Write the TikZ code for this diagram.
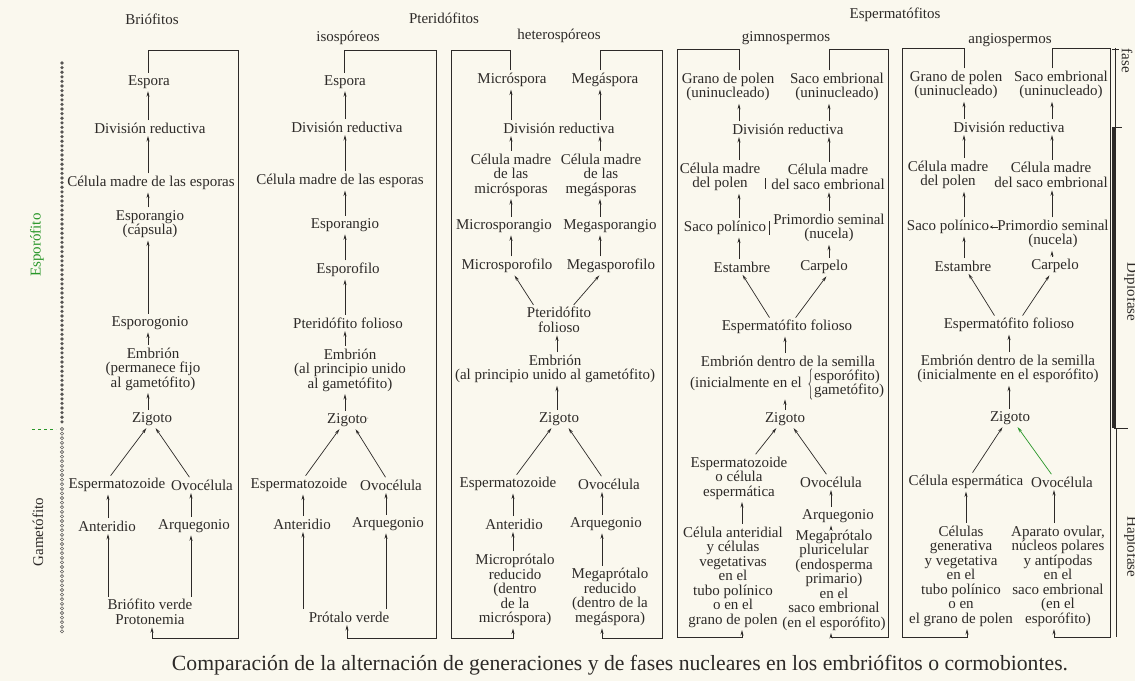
\documentclass[tikz,border=0pt]{standalone}
\usepackage{fontspec}
\setmainfont{Liberation Serif}
\usetikzlibrary{arrows.meta,calc,decorations.pathreplacing}
\definecolor{ink}{RGB}{45,42,40}
\definecolor{paper}{RGB}{250,248,238}
\definecolor{grn}{RGB}{40,150,40}
\newcommand\tx{\fontsize{15}{14.5}\selectfont}
\begin{document}
\begin{tikzpicture}[x=1pt,y=-1pt,
  lbl/.style={font=\tx, text=ink, inner sep=1.5pt, align=center},
  arr/.style={draw=ink, line width=0.7pt, -{Stealth[length=5.5pt,width=3pt]}, shorten <=1pt, shorten >=1pt},
  ln/.style={draw=ink, line width=0.7pt}]
\fill[paper] (0,0) rectangle (1135,681);
\useasboundingbox (0,0) rectangle (1135,681);

% ---------- left phase marks
\foreach \i in {0,...,78} \fill[ink!80] (62,63+\i*4.6) circle (1.8);
\foreach \i in {0,...,44} \draw[ink!75,line width=0.6pt] (62,429+\i*4.6) circle (1.6);
\node[lbl, rotate=90, text=grn] (espo) at (37,245) {Esporófito};
\node[lbl, rotate=90] (game) at (38,532) {Gametófito};
\draw[grn, dashed, line width=0.8pt] (32,429) -- (56,429);

% ---------- Briofitos
\node[lbl] (bt) at (152,19) {Briófitos};
\node[lbl] (b1) at (149,82) {Espora};
\node[lbl] (b2) at (150,128) {División reductiva};
\node[lbl] (b3) at (151,183) {Célula madre de las esporas};
\node[lbl] (b4) at (150,224) {Esporangio\\(cápsula)};
\node[lbl] (b5) at (150,323) {Esporogonio};
\node[lbl] (b6) at (153,369) {Embrión\\(permanece fijo\\al gametófito)};
\node[lbl] (b7) at (152,419) {Zigoto};
\node[lbl] (b8) at (117,485) {Espermatozoide};
\node[lbl] (b9) at (202,485) {Ovocélula};
\node[lbl] (b10) at (107,526) {Anteridio};
\node[lbl] (b11) at (194,526) {Arquegonio};
\node[lbl] (b12) at (150,612) {Briófito verde\\Protonemia};
\foreach \lo/\hi in {b2/b1,b3/b2,b4/b3,b5/b4,b6/b5,b7/b6}
  \draw[arr] (\lo.north -| 148,0) -- (\hi.south -| 148,0);
\draw[arr] ([xshift=-7pt]b8.north) -- ([xshift=-5pt]b7.south);
\draw[arr] ([xshift=-12pt]b9.north) -- ([xshift=3pt]b7.south);
\draw[arr] (b10.north -| 108,0) -- (b8.south -| 108,0);
\draw[arr] (b11.north -| 191,0) -- (b9.south -| 191,0);
\draw[arr] (b12.north -| 108,0) -- (b10.south -| 108,0);
\draw[arr] (b12.north -| 191,0) -- (b11.south -| 191,0);
\draw[arr] (b1.north -| 148,0) |- (238,50) -- (238,638) -| (b12.south -| 152,0);

% ---------- Pteridofitos isosporeos
\node[lbl] (pt) at (444,18) {Pteridófitos};
\node[lbl] (it) at (348,38) {isospóreos};
\node[lbl] (i1) at (345,82) {Espora};
\node[lbl] (i2) at (347,127) {División reductiva};
\node[lbl] (i3) at (340,181) {Célula madre de las esporas};
\node[lbl] (i4) at (345,225) {Esporangio};
\node[lbl] (i5) at (348,270) {Esporofilo};
\node[lbl] (i6) at (348,323) {Pteridófito folioso};
\node[lbl] (i7) at (350,370) {Embrión\\(al principio unido\\al gametófito)};
\node[lbl] (i8) at (348,420) {Zigoto\raisebox{2pt}{\tiny'}};
\node[lbl] (i9) at (299,485) {Espermatozoide};
\node[lbl] (i10) at (391,485) {Ovocélula};
\node[lbl] (i11) at (302,524) {Anteridio};
\node[lbl] (i12) at (388,524) {Arquegonio};
\node[lbl] (i13) at (349,617) {Prótalo verde};
\foreach \lo/\hi in {i2/i1,i3/i2,i4/i3,i5/i4,i6/i5,i7/i6,i8/i7}
  \draw[arr] (\lo.north -| 345,0) -- (\hi.south -| 345,0);
\draw[arr] ([xshift=6pt]i9.north) -- ([xshift=-8pt]i8.south);
\draw[arr] ([xshift=-5pt]i10.north) -- ([xshift=7pt]i8.south);
\draw[arr] (i11.north -| 303,0) -- (i9.south -| 303,0);
\draw[arr] (i12.north -| 386,0) -- (i10.south -| 386,0);
\draw[arr] (i13.north -| 303,0) -- (i11.south -| 303,0);
\draw[arr] (i13.north -| 386,0) -- (i12.south -| 386,0);
\draw[arr] (i1.north -| 344,0) |- (436,50) -- (436,638) -| (i13.south -| 347,0);

% ---------- Pteridofitos heterosporeos
\node[lbl] (ht) at (559,36) {heterospóreos};
\node[lbl] (h1) at (512,80) {Micróspora};
\node[lbl] (h2) at (605,80) {Megáspora};
\node[lbl] (h3) at (559,128) {División reductiva};
\node[lbl] (h4) at (511,175) {Célula madre\\de las\\micrósporas};
\node[lbl] (h5) at (601,175) {Célula madre\\de las\\megásporas};
\node[lbl] (h6) at (504,226) {Microsporangio};
\node[lbl] (h7) at (610,226) {Megasporangio};
\node[lbl] (h8) at (507,266) {Microsporofilo};
\node[lbl] (h9) at (611,266) {Megasporofilo};
\node[lbl] (h10) at (559,320) {Pteridófito\\folioso};
\node[lbl] (h11) at (555,369) {Embrión\\(al principio unido al gametófito)};
\node[lbl] (h12) at (559,419) {Zigoto};
\node[lbl] (h13) at (508,484) {Espermatozoide};
\node[lbl] (h14) at (609,484) {Ovocélula};
\node[lbl] (h15) at (514,524) {Anteridio};
\node[lbl] (h16) at (606,524) {Arquegonio};
\node[lbl] (h17) at (515,590) {Microprótalo\\reducido\\(dentro\\de la\\micróspora)};
\node[lbl] (h18) at (610,597) {Megaprótalo\\reducido\\(dentro de la\\megáspora)};
\draw[arr] (h3.north -| 511,0) -- (h1.south -| 511,0);
\draw[arr] (h3.north -| 600,0) -- (h2.south -| 600,0);
\draw[arr] (h4.north -| 511,0) -- (h3.south -| 511,0);
\draw[arr] (h5.north -| 600,0) -- (h3.south -| 600,0);
\draw[arr] (h6.north -| 511,0) -- (h4.south -| 511,0);
\draw[arr] (h7.north -| 600,0) -- (h5.south -| 600,0);
\draw[arr] (h8.north -| 511,0) -- (h6.south -| 511,0);
\draw[arr] (h9.north -| 600,0) -- (h7.south -| 600,0);
\draw[arr] ([xshift=-25pt]h10.north) -- ([xshift=7pt]h8.south);
\draw[arr] ([xshift=14pt]h10.north) -- ([xshift=-11pt]h9.south);
\draw[arr] (h11.north -| 557,0) -- (h10.south -| 557,0);
\draw[arr] (h12.north -| 557,0) -- (h11.south -| 557,0);
\draw[arr] ([xshift=8pt]h13.north) -- ([xshift=-7pt]h12.south);
\draw[arr] ([xshift=-7pt]h14.north) -- ([xshift=9pt]h12.south);
\draw[arr] (h15.north -| 513,0) -- (h13.south -| 513,0);
\draw[arr] (h16.north -| 602,0) -- (h14.south -| 602,0);
\draw[arr] (h17.north -| 513,0) -- (h15.south -| 513,0);
\draw[arr] (h18.north -| 602,0) -- (h16.south -| 602,0);
\draw[arr] (h1.north -| 510,0) |- (451,50) -- (451,638) -| (h17.south -| 513,0);
\draw[arr] (h2.north -| 600,0) |- (662,50) -- (662,638) -| (h18.south -| 602,0);

% ---------- Espermatofitos gimnospermos
\node[lbl] (et) at (895,15) {Espermatófitos};
\node[lbl] (gt) at (786,38) {gimnospermos};
\node[lbl] (g1) at (728,87) {Grano de polen\\(uninucleado)};
\node[lbl] (g2) at (837,87) {Saco embrional\\(uninucleado)};
\node[lbl] (g3) at (788,129) {División reductiva};
\node[lbl] (g4) at (720,177) {Célula madre\\del polen};
\node[lbl] (g5) at (828,177) {Célula madre\\del saco embrional};
\node[lbl] (g6) at (725,228) {Saco polínico};
\node[lbl] (g7) at (829,228) {Primordio seminal\\(nucela)};
\node[lbl] (g8) at (742,267) {Estambre};
\node[lbl] (g9) at (824,267) {Carpelo};
\node[lbl] (g10) at (787,327) {Espermatófito folioso};
\node[lbl] (g11) at (788,361) {Embrión dentro de la semilla};
\node[lbl, inner sep=0pt] (g12) at (746,384) {(inicialmente en el};
\node[lbl, align=left, inner sep=0pt] (g13) at (849,384) {esporófito)\\gametófito)};
\draw[ink, line width=0.6pt, decorate, decoration={brace, amplitude=3pt}] ([xshift=-2pt,yshift=-1pt]g13.south west) -- ([xshift=-2pt,yshift=1pt]g13.north west);
\node[lbl] (g14) at (785,419) {Zigoto};
\node[lbl] (g15) at (739,478) {Espermatozoide\\o célula\\espermática};
\node[lbl] (g16) at (831,482) {Ovocélula};
\node[lbl] (g17) at (838,516) {Arquegonio};
\node[lbl] (g18) at (733,577) {Célula anteridial\\y células\\vegetativas\\en el\\tubo polínico\\o en el\\grano de polen};
\node[lbl] (g19) at (834,580) {Megaprótalo\\pluricelular\\(endosperma\\primario)\\en el\\saco embrional\\(en el esporófito)};
\draw[arr] (g3.north -| 739,0) -- (g1.south -| 739,0);
\draw[arr] (g3.north -| 829,0) -- (g2.south -| 829,0);
\draw[arr] (g4.north -| 739,0) -- (g3.south -| 739,0);
\draw[arr] (g5.north -| 829,0) -- (g3.south -| 829,0);
\draw[arr] (g6.north -| 739,0) -- (g4.south -| 739,0);
\draw[arr] (g7.north -| 829,0) -- (g5.south -| 829,0);
\draw[arr] (g8.north -| 739,0) -- (g6.south -| 739,0);
\draw[arr] (g9.north -| 829,0) -- (g7.south -| 829,0);
\draw[ln] ([xshift=3pt,yshift=-1pt]g4.east) -- ([xshift=3pt,yshift=-12pt]g4.east);
\draw[ln] ([xshift=2pt,yshift=7pt]g6.east) -- ([xshift=2pt,yshift=-7pt]g6.east);
\draw[arr] ([xshift=-17pt]g10.north) -- (g8.south);
\draw[arr] ([xshift=8pt]g10.north) -- ([xshift=3pt]g9.south);
\draw[arr] (g11.north -| 785,0) -- (g10.south -| 785,0);
\draw[arr] (g14.north) -- (g13.south -| g14.north);
\draw[arr] ([xshift=16pt]g15.north) -- ([xshift=-8pt]g14.south);
\draw[arr] ([xshift=-4pt]g16.north) -- ([xshift=8pt]g14.south);
\draw[arr] (g18.north -| 742,0) -- (g15.south -| 742,0);
\draw[arr] (g17.north -| 831,0) -- (g16.south -| 831,0);
\draw[arr] (g19.north -| 831,0) -- (g17.south -| 831,0);
\draw[arr] (g1.north -| 739,0) |- (677,49) -- (677,637) -| (g18.south -| 742,0);
\draw[arr] (g2.north -| 829,0) |- (888,49) -- (888,637) -| (g19.south -| 831,0);

% ---------- Espermatofitos angiospermos
\node[lbl] (at) at (1010,40) {angiospermos};
\node[lbl] (a1) at (956,85) {Grano de polen\\(uninucleado)};
\node[lbl] (a2) at (1061,85) {Saco embrional\\(uninucleado)};
\node[lbl] (a3) at (1009,127) {División reductiva};
\node[lbl] (a4) at (948,175) {Célula madre\\del polen};
\node[lbl] (a5) at (1051,175) {Célula madre\\del saco embrional};
\node[lbl] (a6) at (948,227) {Saco polínico};
\node[lbl] (a7) at (1053,234) {Primordio seminal\\(nucela)};
\node[lbl] (a8) at (963,266) {Estambre};
\node[lbl] (a9) at (1055,266) {Carpelo};
\node[lbl] (a10) at (1009,325) {Espermatófito folioso};
\node[lbl] (a11) at (1008,369) {Embrión dentro de la semilla\\(inicialmente en el esporófito)};
\node[lbl] (a12) at (1010,418) {Zigoto};
\node[lbl] (a13) at (966,482) {Célula espermática};
\node[lbl] (a14) at (1062,482) {Ovocélula};
\node[lbl] (a15) at (961,576) {Células\\generativa\\y vegetativa\\en el\\tubo polínico\\o en\\el grano de polen};
\node[lbl] (a16) at (1058,576) {Aparato ovular,\\núcleos polares\\y antípodas\\en el\\saco embrional\\(en el\\esporófito)};
\draw[arr] (a3.north -| 964,0) -- (a1.south -| 964,0);
\draw[arr] (a3.north -| 1052,0) -- (a2.south -| 1052,0);
\draw[arr] (a4.north -| 964,0) -- (a3.south -| 964,0);
\draw[arr] (a5.north -| 1052,0) -- (a3.south -| 1052,0);
\draw[arr] (a6.north -| 964,0) -- (a4.south -| 964,0);
\draw[arr] (a7.north -| 1052,0) -- (a5.south -| 1052,0);
\draw[arr] (a8.north -| 964,0) -- (a6.south -| 964,0);
\draw[arr] (a9.north -| 1052,0) -- (a7.south -| 1052,0);
\draw[draw=ink, line width=0.6pt, -{Stealth[length=3pt,width=3pt]}] ([xshift=2pt]a7.west |- a6.east) -- ([xshift=-1pt]a6.east);
\draw[arr] ([xshift=-14pt]a10.north) -- ([xshift=5pt]a8.south);
\draw[arr] ([xshift=13pt]a10.north) -- ([xshift=-5pt]a9.south);
\draw[arr] (a11.north -| 1009,0) -- (a10.south -| 1009,0);
\draw[arr] (a12.north -| 1009,0) -- (a11.south -| 1009,0);
\draw[arr] ([xshift=6pt]a13.north) -- ([xshift=-7pt]a12.south);
\draw[arr, draw=grn] ([xshift=-10pt]a14.north) -- ([xshift=7pt]a12.south);
\draw[arr] (a15.north -| 966,0) -- (a13.south -| 966,0);
\draw[arr] (a16.north -| 1054,0) -- (a14.south -| 1054,0);
\draw[arr] (a1.north -| 964,0) |- (902,48) -- (902,637) -| (a15.south -| 967,0);
\draw[arr] (a2.north -| 1052,0) |- (1110,48) -- (1110,637) -| (a16.south -| 1054,0);

% ---------- right phase bar
\draw[ln] (1115,48) -- (1115,127);
\draw[ink, line width=4pt] (1114,127) -- (1114,428);
\draw[ln] (1116,428) -- (1116,637);
\draw[ln] (1112,49) -- (1119,49);
\draw[ln] (1112,127) -- (1122,127);
\draw[ln] (1114,428) -- (1128,428);
\node[lbl, rotate=-90] (fase) at (1127,61) {fase};
\node[lbl, rotate=-90] (dipl) at (1131,292) {Diplofase};
\node[lbl, rotate=-90] (hapl) at (1131,547) {Haplofase};

% ---------- caption
\node[font=\fontsize{21.7}{24}\selectfont, text=ink, inner sep=0pt] (cap) at (620,665) {Comparación de la alternación de generaciones y de fases nucleares en los embriófitos o cormobiontes.};
\end{tikzpicture}
\end{document}
